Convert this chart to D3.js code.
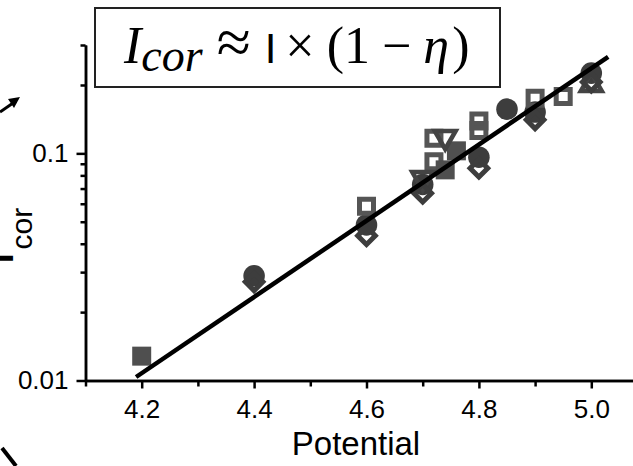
<!DOCTYPE html>
<html>
<head>
<meta charset="utf-8">
<script src="https://cdn.jsdelivr.net/npm/d3@7"></script>
<style>
body { margin: 0; background: #fff; }
svg { display: block; font-family: "Liberation Sans", Arial, sans-serif; }
</style>
</head>
<body>
<div class="container"></div>
<script>
const WIDTH = 633;
const HEIGHT = 466;

// series (x = potential, y = I_cor)
const filledCircleX = [4.4, 4.6, 4.7, 4.8, 4.85, 4.9, 5.0];
const filledCircleY = [0.0289, 0.0484, 0.073, 0.0962, 0.1566, 0.152, 0.2256];

const hollowSquareX = [4.6, 4.72, 4.72, 4.8, 4.8, 4.9, 4.95];
const hollowSquareY = [0.0585, 0.0918, 0.1167, 0.126, 0.139, 0.175, 0.178];

const filledSquareX = [4.2, 4.74, 4.76];
const filledSquareY = [0.0128, 0.0846, 0.1026];

const triangleDownX = [4.7, 4.74];
const triangleDownY = [0.0778, 0.118];

const triangleUpX = [5.0];
const triangleUpY = [0.2];

const diamondX = [4.4, 4.6, 4.7, 4.8, 4.9, 5.0];
const diamondY = [0.0272, 0.0434, 0.0668, 0.0861, 0.1405, 0.206];

// fitted line end points
const fitX = [4.19, 5.03];
const fitY = [0.01036, 0.266];

const xMajorTicks = [4.2, 4.4, 4.6, 4.8, 5.0];
const xMinorTicks = [4.1, 4.3, 4.5, 4.7, 4.9];
const yMajorTicks = [0.01, 0.1];
const yTickLabels = ['0.01', '0.1'];
const yMinorTicks = [0.02, 0.03, 0.04, 0.05, 0.06, 0.07, 0.08, 0.09, 0.2, 0.3];

var translate = function (x, y) {
    return "translate(" + x + "," + y + ")";
};

var zip = function (xs, ys) {
    return xs.map(function (x, i) { return [x, ys[i]]; });
};

var styleAxis = function (g) {
    g.attr('font-family', '"Liberation Sans", Arial, sans-serif');
    g.selectAll('path, line').attr('stroke', '#000').attr('stroke-width', 2.5);
    g.selectAll('text').attr('font-size', 26).attr('fill', '#000');
};

var svg = d3.select('.container').append('svg')
    .attr('width', WIDTH)
    .attr('height', HEIGHT);

svg.append('rect').attr('width', WIDTH).attr('height', HEIGHT).attr('fill', '#fff');

var xScale = d3.scaleLinear().domain([4.1, 5.1]).range([85.5, 647.5]);
var yScale = d3.scaleLog().domain([0.01, 0.3]).range([380.5, 45]);

// axes: minor first, then major with labels
svg.append('g')
    .attr('transform', translate(0, 380.5))
    .call(d3.axisBottom(xScale).tickValues(xMinorTicks).tickSize(6).tickSizeOuter(0).tickFormat(''))
    .call(styleAxis);
svg.append('g')
    .attr('transform', translate(0, 380.5))
    .call(d3.axisBottom(xScale).tickValues(xMajorTicks).tickSize(8).tickSizeOuter(0).tickPadding(11).tickFormat(d3.format('.1f')))
    .call(styleAxis);

svg.append('g')
    .attr('transform', translate(85.5, 0))
    .call(d3.axisLeft(yScale).tickValues(yMinorTicks).tickSize(5).tickSizeOuter(0).tickFormat(''))
    .call(styleAxis);
svg.append('g')
    .attr('transform', translate(85.5, 0))
    .call(d3.axisLeft(yScale).tickValues(yMajorTicks).tickSize(9).tickSizeOuter(0).tickPadding(8)
        .tickFormat(function (d, i) { return yTickLabels[i]; }))
    .call(styleAxis);

// markers
var sym = function (type, size) {
    return d3.symbol().type(type).size(size)();
};

var drawSeries = function (xs, ys, path, rotate, fill, stroke, sw) {
    svg.append('g').selectAll('path')
        .data(zip(xs, ys))
        .enter().append('path')
        .attr('d', path)
        .attr('transform', function (d) {
            return translate(xScale(d[0]), yScale(d[1])) + ' rotate(' + rotate + ')';
        })
        .attr('fill', fill)
        .attr('stroke', stroke)
        .attr('stroke-width', sw);
};

drawSeries(filledCircleX, filledCircleY, sym(d3.symbolCircle, 365), 0, '#3d3d3d', 'none', 0);
drawSeries(hollowSquareX, hollowSquareY, sym(d3.symbolSquare, 196), 0, 'none', '#555', 5);
drawSeries(filledSquareX, filledSquareY, sym(d3.symbolSquare, 361), 0, '#4f4f4f', 'none', 0);
drawSeries(triangleUpX, triangleUpY, sym(d3.symbolTriangle, 190), 0, 'none', '#444', 4.5);
drawSeries(triangleDownX, triangleDownY, sym(d3.symbolTriangle, 190), 180, 'none', '#444', 4.5);
drawSeries(diamondX, diamondY, sym(d3.symbolSquare, 155), 45, 'none', '#3d3d3d', 5);

// fit line
var line = d3.line()
    .x(function (d) { return xScale(d[0]); })
    .y(function (d) { return yScale(d[1]); });

svg.append('path')
    .attr('d', line(zip(fitX, fitY)))
    .attr('fill', 'none')
    .attr('stroke', '#000')
    .attr('stroke-width', 4.5);

// axis titles
svg.append('text')
    .attr('x', 356)
    .attr('y', 455)
    .attr('text-anchor', 'middle')
    .attr('font-size', 33)
    .text('Potential');

var yTitle = svg.append('text')
    .attr('transform', translate(13, 263) + ' rotate(-90)')
    .attr('font-size', 34);
yTitle.append('tspan').attr('font-weight', 'bold').text('I');
yTitle.append('tspan').attr('dy', 19).attr('dx', 4).attr('font-size', 30).text('cor');

// formula box
svg.append('rect')
    .attr('x', 95).attr('y', 8)
    .attr('width', 405).attr('height', 79)
    .attr('fill', '#fff')
    .attr('stroke', '#222')
    .attr('stroke-width', 2);

var formula = svg.append('text')
    .attr('x', 124).attr('y', 63)
    .attr('font-family', '"Liberation Serif", "DejaVu Serif", serif')
    .attr('font-size', 52);
formula.append('tspan').attr('font-style', 'italic').text('I');
formula.append('tspan').attr('font-style', 'italic').attr('dy', 8).attr('font-size', 46).text('cor');
formula.append('tspan').attr('dy', -8).attr('dx', 14).attr('font-size', 62).text('\u2248');
formula.append('tspan').attr('dx', 14).attr('font-family', '"Liberation Sans", Arial, sans-serif').attr('font-size', 42).text('I');
formula.append('tspan').attr('dx', 9).text('\u00d7');
formula.append('tspan').attr('dx', 12).text('(1');
formula.append('tspan').attr('dx', 12).text('\u2212');
formula.append('tspan').attr('dx', 12).attr('font-style', 'italic').text('\u03b7');
formula.append('tspan').attr('dx', 3).text(')');

// bits of the neighbouring panel cut at the edge
svg.append('path')
    .attr('d', 'M0,112 L16,101')
    .attr('stroke', '#000').attr('stroke-width', 3);
svg.append('path')
    .attr('d', 'M20,97 L8,99 L14,108 Z')
    .attr('fill', '#000');
svg.append('path')
    .attr('d', 'M2,448 L16,466')
    .attr('stroke', '#000').attr('stroke-width', 4);
</script>
</body>
</html>
